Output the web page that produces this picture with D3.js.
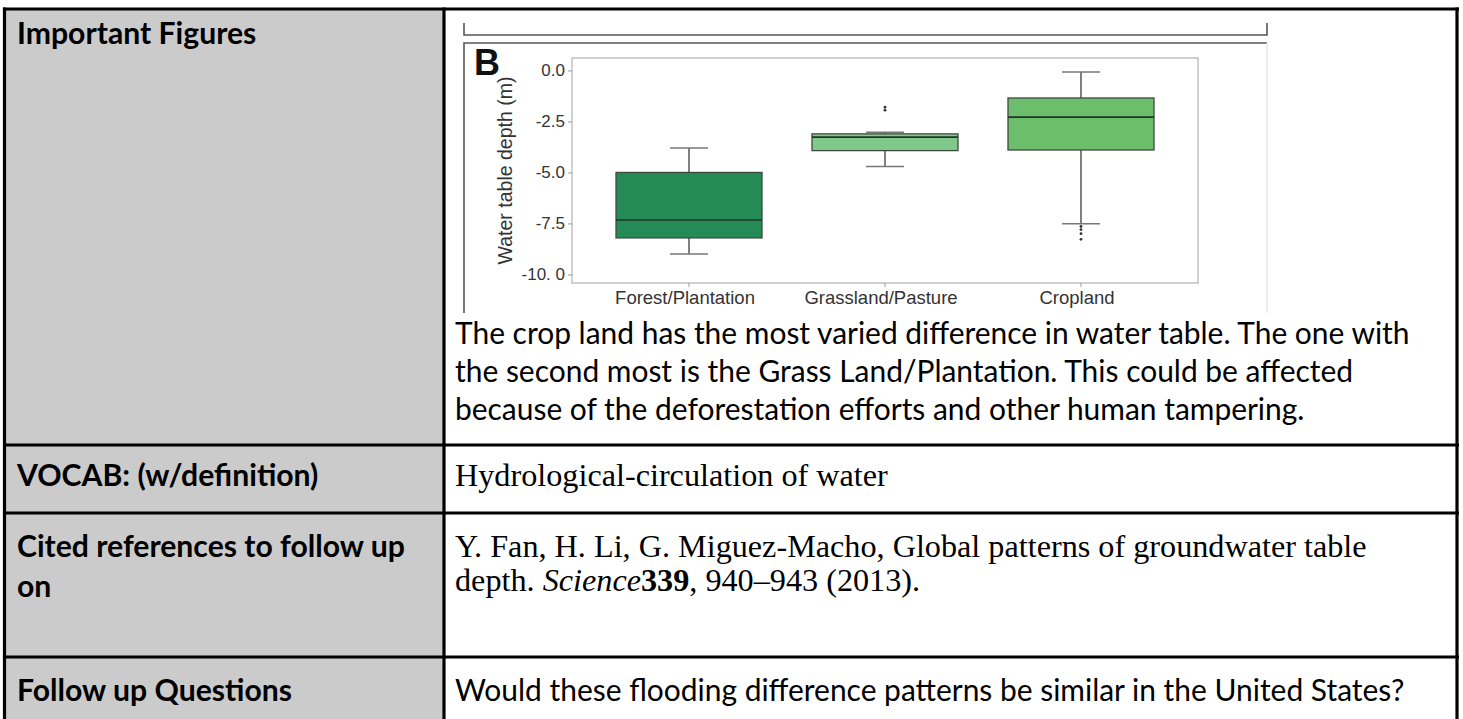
<!DOCTYPE html>
<html>
<head>
<meta charset="utf-8">
<script src="https://cdn.jsdelivr.net/npm/d3@7"></script>
<style>
  html, body { margin: 0; padding: 0; background: #fff; }
  svg { display: block; }
</style>
</head>
<body>
<div class="page"></div>
<script>
// box plot values (water table depth, m)
const categories = ['Forest/Plantation', 'Grassland/Pasture', 'Cropland'];
const whiskerLow = [-9.0, -4.71, -7.52];
const q1 = [-8.21, -3.93, -3.9];
const median = [-7.33, -3.27, -2.29];
const q3 = [-5.0, -3.11, -1.35];
const whiskerHigh = [-3.8, -3.03, -0.08];
const outliers = [[], [-1.8, -1.95], [-7.65, -7.8, -8.0, -8.28]];
const boxColors = ['#248a56', '#80c98b', '#6dbe6c'];
const yTicks = [0, -2.5, -5, -7.5, -10];
const yTickLabels = ['0.0', '-2.5', '-5.0', '-7.5', '-10. 0'];

// text of the notes table
const paragraph = [
  'The crop land has the most varied difference in water table. The one with',
  'the second most is the Grass Land/Plantation. This could be affected',
  'because of the deforestation efforts and other human tampering.'
];

const W = 1463, H = 719;
const colX = 444, rowY = [9, 445, 513, 657];

const svg = d3.select('.page')
  .append('svg')
  .attr('width', W)
  .attr('height', H);

// ---- table ----
svg.append('rect')
  .attr('x', 4).attr('y', 9)
  .attr('width', colX - 4).attr('height', H)
  .attr('fill', '#cbcbcb');

const grid = svg.append('g')
  .attr('stroke', '#000')
  .attr('stroke-width', 3.2);

grid.append('line').attr('x1', 4.5).attr('x2', 4.5).attr('y1', 7.5).attr('y2', H);
grid.append('line').attr('x1', colX).attr('x2', colX).attr('y1', 7.5).attr('y2', H);
grid.append('line').attr('x1', 1457).attr('x2', 1457).attr('y1', 7.5).attr('y2', H);
rowY.forEach(function (y) {
  grid.append('line').attr('x1', 3).attr('x2', 1459).attr('y1', y).attr('y2', y);
});

// left column headings
const heads = svg.append('g')
  .attr('font-family', 'Lato, "Open Sans", sans-serif')
  .attr('font-weight', 700)
  .attr('font-size', 22)
  .attr('fill', '#000');

const headRows = [
  { t: 'Important Figures', y: 44 },
  { t: 'VOCAB: (w/definition)', y: 486 },
  { t: 'Cited references to follow up', y: 557 },
  { t: 'on', y: 597 },
  { t: 'Follow up Questions', y: 701 }
];
heads.selectAll('text')
  .data(headRows)
  .enter()
  .append('text')
  .attr('x', 17)
  .attr('y', function (d) { return d.y; })
  .text(function (d) { return d.t; });

// body text, sans
const body = svg.append('g')
  .attr('font-family', 'Lato, "Open Sans", sans-serif')
  .attr('font-size', 22)
  .attr('fill', '#000');

const bodyRows = [
  { t: paragraph[0], y: 344 },
  { t: paragraph[1], y: 382 },
  { t: paragraph[2], y: 420 },
  { t: 'Would these flooding difference patterns be similar in the United States?', y: 701 }
];
body.selectAll('text')
  .data(bodyRows)
  .enter()
  .append('text')
  .attr('x', 455)
  .attr('y', function (d) { return d.y; })
  .text(function (d) { return d.t; });

// body text, serif
const serif = svg.append('g')
  .attr('font-family', '"Liberation Serif", "DejaVu Serif", serif')
  .attr('font-size', 22)
  .attr('fill', '#000');

serif.append('text').attr('x', 455).attr('y', 486)
  .text('Hydrological-circulation of water');
serif.append('text').attr('x', 455).attr('y', 557)
  .text('Y. Fan, H. Li, G. Miguez-Macho, Global patterns of groundwater table');
const cite2 = serif.append('text').attr('x', 455).attr('y', 591);
cite2.append('tspan').text('depth. ');
cite2.append('tspan').attr('font-style', 'italic').text('Science');
cite2.append('tspan').attr('font-weight', 700).text('339');
cite2.append('tspan').text(', 940\u2013943 (2013).');

// scale a group's font so a reference line hits the width seen in the picture
function fitGroup(group, refNode, targetWidth) {
  const len = refNode.getComputedTextLength();
  const fs = parseFloat(group.attr('font-size'));
  group.attr('font-size', fs * targetWidth / len);
}
fitGroup(heads, heads.selectAll('text').nodes()[2], 388);
fitGroup(body, body.selectAll('text').nodes()[3], 950);
fitGroup(serif, serif.selectAll('text').nodes()[1], 912);

// ---- embedded figure ----
const fig = svg.append('g').attr('class', 'figure');

// remains of panel A frame and panel B frame
fig.append('path')
  .attr('d', 'M464,23V35H1267V23')
  .attr('fill', 'none')
  .attr('stroke', '#555')
  .attr('stroke-width', 1.6);
fig.append('path')
  .attr('d', 'M464,313V43H1267')
  .attr('fill', 'none')
  .attr('stroke', '#555')
  .attr('stroke-width', 1.6);
fig.append('line')
  .attr('x1', 1267).attr('x2', 1267).attr('y1', 43).attr('y2', 313)
  .attr('stroke', '#e2e2e2')
  .attr('stroke-width', 1.2);

fig.append('text')
  .attr('x', 474).attr('y', 75)
  .attr('font-family', '"Liberation Sans", Arial, sans-serif')
  .attr('font-weight', 700)
  .attr('font-size', 36)
  .attr('fill', '#111')
  .text('B');

const plot = { left: 572, right: 1198, top: 58, bottom: 283 };

const x = d3.scaleBand()
  .domain(categories)
  .range([plot.left, plot.right])
  .paddingInner(0.255)
  .paddingOuter(0.2245);

const y = d3.scaleLinear()
  .domain([-10.42, 0.61])
  .range([plot.bottom, plot.top]);

fig.append('rect')
  .attr('x', plot.left).attr('y', plot.top)
  .attr('width', plot.right - plot.left)
  .attr('height', plot.bottom - plot.top)
  .attr('fill', '#fff')
  .attr('stroke', '#b8b8b8')
  .attr('stroke-width', 1.3);

const yAxis = d3.axisLeft(y)
  .tickValues(yTicks)
  .tickFormat(function (d, i) { return yTickLabels[i]; })
  .tickSize(4)
  .tickPadding(3);

const yg = fig.append('g')
  .attr('transform', 'translate(' + plot.left + ',0)')
  .call(yAxis);
yg.select('.domain').remove();
yg.selectAll('line').attr('stroke', '#999');
yg.selectAll('text')
  .attr('font-family', '"Liberation Sans", Arial, sans-serif')
  .attr('font-size', 17)
  .attr('fill', '#333');

const xAxis = d3.axisBottom(x).tickSize(4).tickPadding(4);
const xg = fig.append('g')
  .attr('transform', 'translate(0,' + plot.bottom + ')')
  .call(xAxis);
xg.select('.domain').remove();
xg.selectAll('line').attr('stroke', '#999');
xg.selectAll('text')
  .attr('font-family', '"Liberation Sans", Arial, sans-serif')
  .attr('font-size', 18.5)
  .attr('dx', -4)
  .attr('fill', '#333');

fig.append('text')
  .attr('transform', 'translate(512,' + ((plot.top + plot.bottom) / 2) + ') rotate(-90)')
  .attr('text-anchor', 'middle')
  .attr('font-family', '"Liberation Sans", Arial, sans-serif')
  .attr('font-size', 19.5)
  .attr('fill', '#333')
  .text('Water table depth (m)');

// boxes
const boxes = fig.selectAll('.box')
  .data(categories)
  .enter()
  .append('g')
  .attr('class', 'box');

const capW = x.bandwidth() * 0.26;
const cx = function (d) { return x(d) + x.bandwidth() / 2; };

boxes.append('line')
  .attr('x1', cx).attr('x2', cx)
  .attr('y1', function (d, i) { return y(whiskerHigh[i]); })
  .attr('y2', function (d, i) { return y(whiskerLow[i]); })
  .attr('stroke', '#555')
  .attr('stroke-width', 1.5);

[whiskerHigh, whiskerLow].forEach(function (arr) {
  boxes.append('line')
    .attr('x1', function (d) { return cx(d) - capW / 2; })
    .attr('x2', function (d) { return cx(d) + capW / 2; })
    .attr('y1', function (d, i) { return y(arr[i]); })
    .attr('y2', function (d, i) { return y(arr[i]); })
    .attr('stroke', '#777')
    .attr('stroke-width', 1.5);
});

boxes.append('rect')
  .attr('x', function (d) { return x(d); })
  .attr('y', function (d, i) { return y(q3[i]); })
  .attr('width', x.bandwidth())
  .attr('height', function (d, i) { return y(q1[i]) - y(q3[i]); })
  .attr('fill', function (d, i) { return boxColors[i]; })
  .attr('stroke', '#3d4a40')
  .attr('stroke-width', 1.3);

boxes.append('line')
  .attr('x1', function (d) { return x(d); })
  .attr('x2', function (d) { return x(d) + x.bandwidth(); })
  .attr('y1', function (d, i) { return y(median[i]); })
  .attr('y2', function (d, i) { return y(median[i]); })
  .attr('stroke', '#1f3527')
  .attr('stroke-width', 1.6);

boxes.each(function (d, i) {
  d3.select(this).selectAll('circle')
    .data(outliers[i])
    .enter()
    .append('circle')
    .attr('cx', cx(d))
    .attr('cy', function (v) { return y(v); })
    .attr('r', 1.4)
    .attr('fill', '#333');
});
</script>
</body>
</html>
